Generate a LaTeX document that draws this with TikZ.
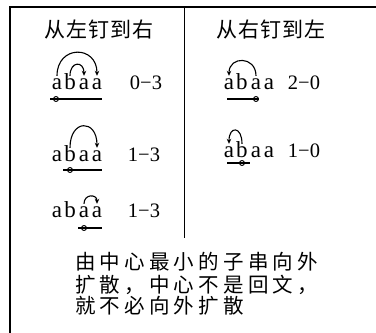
\documentclass[tikz,border=0pt]{standalone}
\usepackage{fontspec}
\setmainfont{Liberation Serif}
\newfontfamily\cjk{Noto Sans CJK SC}
\usetikzlibrary{arrows.meta}
\newlength\cjkstep
\def\spreadit#1{\ifx#1\relax\else\makebox[\cjkstep][l]{#1}\expandafter\spreadit\fi}
\begin{document}
\begin{tikzpicture}[x=1pt,y=1pt,
 ch/.style={inner sep=0pt, anchor=base, text height=13pt, text depth=0pt, font=\fontsize{23}{26}\selectfont},
 lbl/.style={inner sep=0pt, anchor=base, font=\fontsize{20.5}{24}\selectfont},
 title/.style={inner sep=0pt, anchor=base west, font=\cjk\fontsize{21}{26}\selectfont\setlength\cjkstep{22pt}},
 note/.style={inner sep=0pt, anchor=base west, font=\cjk\fontsize{20.5}{24}\selectfont\setlength\cjkstep{24.7pt}},
 curvearr/.style={line width=1.1pt, -{Stealth[length=5pt,width=4.5pt]}},
 pin/.style={line width=1.1pt},
 ring/.style={circle, draw, line width=0.9pt, fill=none, inner sep=0pt, minimum size=5pt},
 frame/.style={line width=2pt},
]
\useasboundingbox (0,0) rectangle (376,-333);
% frame and divider
\draw[frame] (9.5,-333) -- (9.5,-6.5) -- (376,-6.5);
\draw[line width=1.5pt] (184.5,-6.5) -- (184.5,-238);
% titles
\node[title] (tl) at (44,-37) {\spreadit 从左钉到右\relax};
\node[title] (tr) at (216,-37) {\spreadit 从右钉到左\relax};

% ---- left row 1
\node[ch] (la1) at (57,-89) {a};
\node[ch] (lb1) at (70,-89) {b};
\node[ch] (lc1) at (84,-89) {a};
\node[ch] (ld1) at (97,-89) {a};
\node[lbl] (ln1) at (146,-89) {0−3};
\draw[curvearr] (la1.north) .. controls +(0,31) and +(0,31) .. (ld1.north);
\draw[curvearr] (lb1.north) .. controls +(0,15) and +(0,15) .. (lc1.north);
\coordinate (lu1s) at (50,-99);
\coordinate (lu1e) at (102,-99);
\draw[pin] (lu1s) -- (lu1e);
\node[ring] (lr1) at (56,-99) {};

% ---- left row 2
\node[ch] (la2) at (57,-161) {a};
\node[ch] (lb2) at (70,-161) {b};
\node[ch] (lc2) at (84,-161) {a};
\node[ch] (ld2) at (97,-161) {a};
\node[lbl] (ln2) at (144,-161) {1−3};
\draw[curvearr] (lb2.north) .. controls +(0,29) and +(0,29) .. (ld2.north);
\coordinate (lu2s) at (63,-170);
\coordinate (lu2e) at (102,-170);
\draw[pin] (lu2s) -- (lu2e);
\node[ring] (lr2) at (70,-170) {};

% ---- left row 3
\node[ch] (la3) at (57,-217) {a};
\node[ch] (lb3) at (70,-217) {b};
\node[ch] (lc3) at (84,-217) {a};
\node[ch] (ld3) at (97,-217) {a};
\node[lbl] (ln3) at (144,-217) {1−3};
\draw[curvearr] (lc3.north) .. controls +(0,10) and +(0,10) .. (ld3.north);
\coordinate (lu3s) at (78,-228);
\coordinate (lu3e) at (102,-228);
\draw[pin] (lu3s) -- (lu3e);
\node[ring] (lr3) at (84,-228) {};

% ---- right row 1
\node[ch] (ra1) at (229,-89) {a};
\node[ch] (rb1) at (242,-89) {b};
\node[ch] (rc1) at (256,-89) {a};
\node[ch] (rd1) at (269,-89) {a};
\node[lbl] (rn1) at (304,-89) {2−0};
\draw[curvearr] (rc1.north) .. controls +(0,20) and +(0,20) .. (ra1.north);
\coordinate (ru1s) at (227,-99);
\coordinate (ru1e) at (259,-99);
\draw[pin] (ru1s) -- (ru1e);
\node[ring] (rr1) at (256,-99) {};

% ---- right row 2
\node[ch] (ra2) at (229,-157) {a};
\node[ch] (rb2) at (242,-157) {b};
\node[ch] (rc2) at (256,-157) {a};
\node[ch] (rd2) at (269,-157) {a};
\node[lbl] (rn2) at (304,-157) {1−0};
\draw[curvearr] (rb2.north) .. controls +(0,18) and +(0,18) .. (ra2.north);
\coordinate (ru2s) at (227,-163);
\coordinate (ru2e) at (250,-163);
\draw[pin] (ru2s) -- (ru2e);
\node[ring] (rr2) at (242,-163) {};

% ---- note
\node[note] (n1) at (75,-269) {\spreadit 由中心最小的子串向外\relax};
\node[note] (n2) at (75,-292) {\spreadit 扩散，中心不是回文，\relax};
\node[note] (n3) at (75,-313) {\spreadit 就不必向外扩散\relax};
\end{tikzpicture}
\end{document}
